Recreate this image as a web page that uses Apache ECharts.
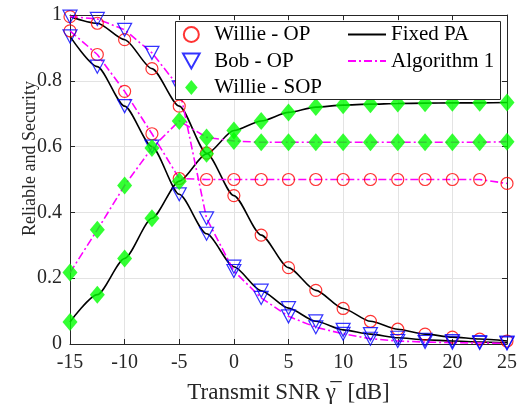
<!DOCTYPE html>
<html lang="en" style="height: 100%">
<head>
    <meta charset="utf-8">
    <script type="text/javascript" src="https://cdn.jsdelivr.net/npm/echarts@6/dist/echarts.min.js"></script>
</head>
<body style="height: 100%; margin: 0">
    <div id="chart" style="height: 409px; width: 520px"></div>
    <script type="text/javascript">
        // 横轴：发射信噪比 (dB)
        var snr = [-15, -12.5, -10, -7.5, -5, -2.5, 0, 2.5, 5, 7.5, 10, 12.5, 15, 17.5, 20, 22.5, 25];

        // Fixed PA
        var willieOpFixed = [0.995, 0.975, 0.925, 0.837, 0.723, 0.58, 0.451, 0.331, 0.232, 0.163, 0.108, 0.069, 0.045, 0.030, 0.021, 0.015, 0.009];
        var bobOpFixed = [0.935, 0.843, 0.723, 0.6, 0.455, 0.335, 0.235, 0.162, 0.109, 0.069, 0.043, 0.030, 0.019, 0.013, 0.009, 0.006, 0.004];
        var willieSopFixed = [0.067, 0.15, 0.26, 0.382, 0.495, 0.578, 0.649, 0.678, 0.704, 0.72, 0.726, 0.729, 0.731, 0.732, 0.733, 0.733, 0.734];

        // Algorithm 1
        var willieOpAlg = [0.952, 0.88, 0.768, 0.639, 0.503, 0.5, 0.5, 0.5, 0.5, 0.5, 0.5, 0.5, 0.5, 0.5, 0.5, 0.5, 0.488];
        var bobOpAlg = [0.995, 0.988, 0.955, 0.885, 0.78, 0.382, 0.222, 0.14, 0.084, 0.051, 0.031, 0.016, 0.009, 0.006, 0.004, 0.003, 0.002];
        var willieSopAlg = [0.217, 0.347, 0.482, 0.596, 0.678, 0.628, 0.617, 0.613, 0.613, 0.613, 0.613, 0.613, 0.613, 0.613, 0.613, 0.613, 0.615];

        var serif = '"Liberation Serif", "Times New Roman", serif';
        var axisColor = '#262626';
        var triDown = 'path://M0,0 L10,0 L5,9 Z';
        var diamond = 'path://M5,0 L10,6 L5,12 L0,6 Z';

        function pairs(ys) {
            return snr.map(function (x, i) { return [x, ys[i]]; });
        }

        function curve(name, ys, color, dashed) {
            return {
                name: name,
                type: 'line',
                data: pairs(ys),
                symbol: 'none',
                smooth: dashed ? false : 0.25,
                smoothMonotone: 'x',
                lineStyle: { color: color, width: 1.6, type: dashed ? [8, 3, 2, 3] : 'solid' },
                itemStyle: { color: color },
                z: 2
            };
        }

        function marks(name, ys, symbol, size, style) {
            return {
                name: name,
                type: 'scatter',
                data: pairs(ys),
                symbol: symbol,
                symbolSize: size,
                itemStyle: style,
                z: 3
            };
        }

        var circleStyle = { color: 'rgba(0,0,0,0)', borderColor: '#ff0000', borderWidth: 1.2 };
        var triStyle = { color: 'rgba(0,0,0,0)', borderColor: '#0000ff', borderWidth: 1.2 };
        var diaStyle = { color: '#00ff00' };
        var noDot = { opacity: 0 };

        var chart = echarts.init(document.getElementById('chart'));
        var option = {
            animation: false,
            grid: { left: 70, right: 8, top: 15, bottom: 62 },
            xAxis: [{
                type: 'value',
                min: -15, max: 25, interval: 5,
                name: 'Transmit SNR γ\u0305  [dB]',
                nameLocation: 'middle',
                nameGap: 37,
                nameMoveOverlap: false,
                nameTextStyle: { fontFamily: serif, fontSize: 23, color: axisColor },
                axisLine: { onZero: false, lineStyle: { color: axisColor } },
                axisTick: { inside: true, length: 5, lineStyle: { color: axisColor } },
                axisLabel: { fontFamily: serif, fontSize: 20, color: axisColor, margin: 9 },
                splitLine: { lineStyle: { color: '#e3e3e3' } }
            }, {
                type: 'value', position: 'top',
                min: -15, max: 25, interval: 5,
                axisLine: { onZero: false, lineStyle: { color: axisColor } },
                axisTick: { inside: true, length: 5, lineStyle: { color: axisColor } },
                axisLabel: { show: false },
                splitLine: { show: false }
            }],
            yAxis: [{
                type: 'value',
                min: 0, max: 1, interval: 0.2,
                name: 'Reliable and Security',
                nameLocation: 'middle',
                nameGap: 31,
                nameMoveOverlap: false,
                nameTextStyle: { fontFamily: serif, fontSize: 18, color: axisColor, padding: [0, 0, 0, 42] },
                axisLine: { show: true, onZero: false, lineStyle: { color: axisColor } },
                axisTick: { show: true, inside: true, length: 5, lineStyle: { color: axisColor } },
                axisLabel: { fontFamily: serif, fontSize: 20, color: axisColor, margin: 8 },
                splitLine: { lineStyle: { color: '#e3e3e3' } }
            }, {
                type: 'value', position: 'right',
                min: 0, max: 1, interval: 0.2,
                axisLine: { show: true, onZero: false, lineStyle: { color: axisColor } },
                axisTick: { show: true, inside: true, length: 5, lineStyle: { color: axisColor } },
                axisLabel: { show: false },
                splitLine: { show: false }
            }],
            graphic: [{
                type: 'rect',
                z: 5,
                shape: { x: 175.5, y: 21.5, width: 325, height: 78 },
                style: { fill: '#fff', stroke: axisColor, lineWidth: 1 }
            }],
            legend: [{
                data: [
                    { name: 'Willie - OP' },
                    { name: 'Bob - OP' },
                    { name: 'Willie - SOP', icon: diamond }
                ],
                orient: 'vertical',
                left: 182, top: 24,
                padding: 0,
                itemWidth: 36, itemHeight: 15, itemGap: 5.5,
                symbolKeepAspect: true,
                textStyle: { fontFamily: serif, fontSize: 21, color: '#000', lineHeight: 20 },
                z: 6
            }, {
                data: [
                    { name: 'Fixed PA', itemStyle: noDot },
                    { name: 'Algorithm 1', itemStyle: noDot }
                ],
                orient: 'vertical',
                left: 347, top: 24,
                padding: 0,
                itemWidth: 38, itemHeight: 14, itemGap: 5.5,
                textStyle: { fontFamily: serif, fontSize: 21, color: '#000', lineHeight: 20 },
                z: 6
            }],
            series: [
                curve('Fixed PA', willieOpFixed, '#000000', false),
                curve('Fixed PA', bobOpFixed, '#000000', false),
                curve('Fixed PA', willieSopFixed, '#000000', false),
                curve('Algorithm 1', willieOpAlg, '#ff00ff', true),
                curve('Algorithm 1', bobOpAlg, '#ff00ff', true),
                curve('Algorithm 1', willieSopAlg, '#ff00ff', true),
                marks('Willie - OP', willieOpFixed, 'circle', 12, circleStyle),
                marks('Willie - OP', willieOpAlg, 'circle', 12, circleStyle),
                marks('Bob - OP', bobOpFixed, triDown, [14, 13], triStyle),
                marks('Bob - OP', bobOpAlg, triDown, [14, 13], triStyle),
                marks('Willie - SOP', willieSopFixed, diamond, [15, 18], diaStyle),
                marks('Willie - SOP', willieSopAlg, diamond, [15, 18], diaStyle)
            ]
        };
        chart.setOption(option);
    </script>
</body>
</html>
